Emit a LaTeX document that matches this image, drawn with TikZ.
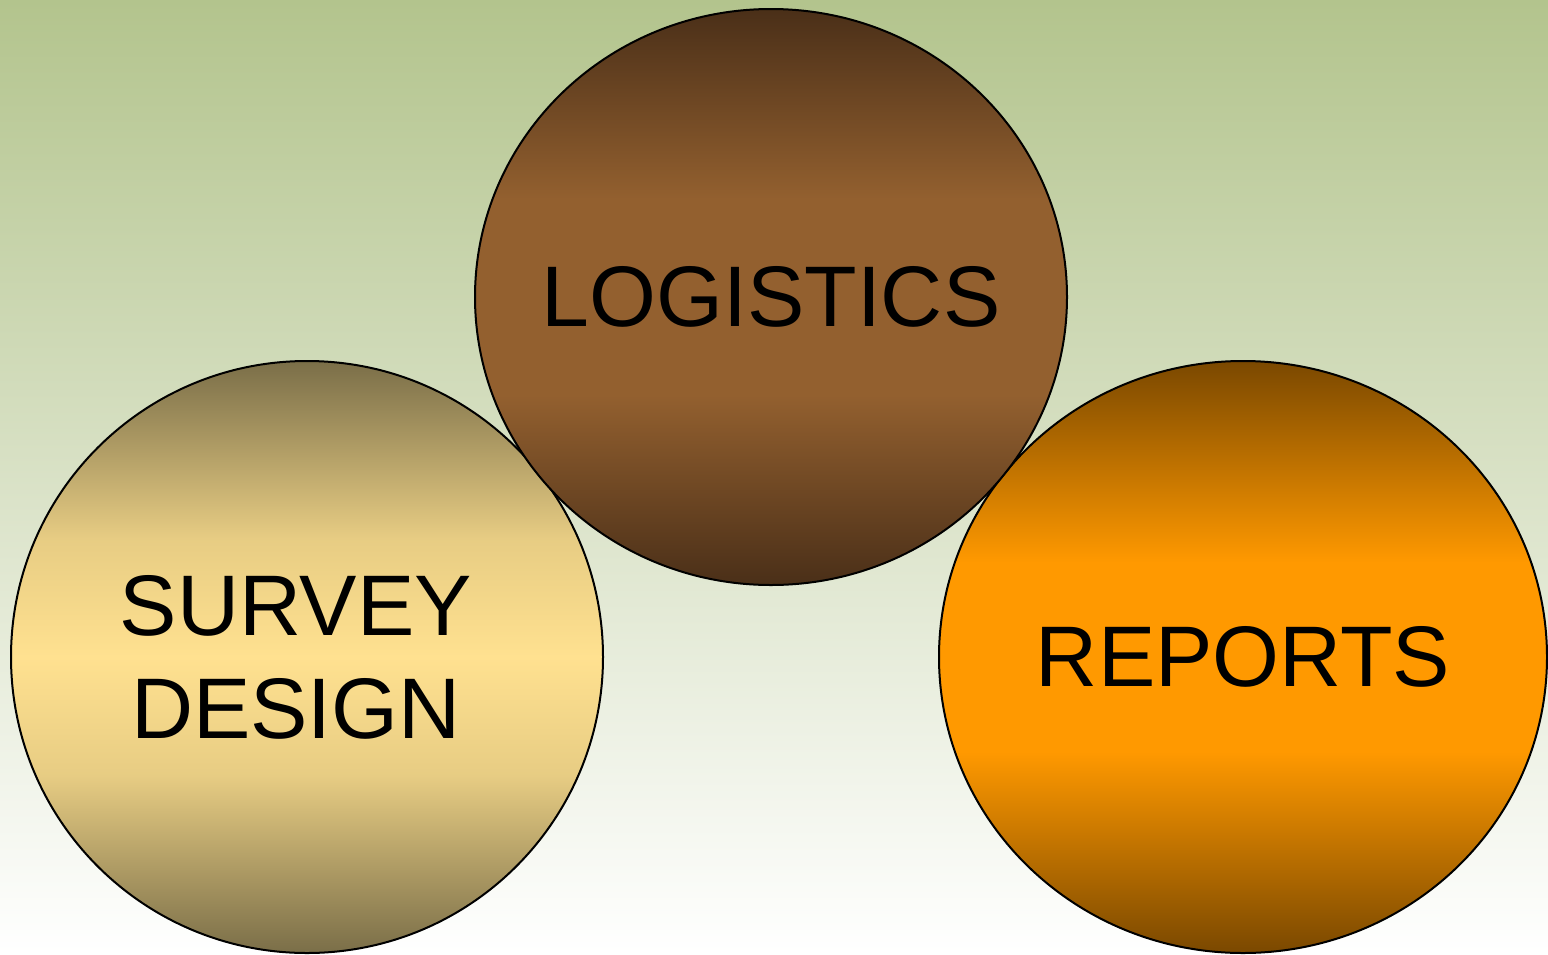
\documentclass[tikz,border=0pt]{standalone}
\usepackage{fontspec}
\setmainfont{Liberation Sans}
\usetikzlibrary{shapes.geometric}
\definecolor{bgtop}{HTML}{B3C48D}
\definecolor{logdark}{HTML}{4A2F18}
\definecolor{logmid}{HTML}{93602F}
\definecolor{surdark}{HTML}{7A6E48}
\definecolor{surmid}{HTML}{FFE190}
\colorlet{surhalf}{surmid!82!surdark}
\definecolor{repdark}{HTML}{7A4800}
\definecolor{repmid}{HTML}{FF9900}
\pgfdeclareverticalshading{logshade}{100bp}{color(0bp)=(logdark); color(25bp)=(logdark);
  color(41.5bp)=(logmid); color(58.5bp)=(logmid); color(75bp)=(logdark); color(100bp)=(logdark)}
\pgfdeclareverticalshading{surshade}{100bp}{color(0bp)=(surdark); color(25bp)=(surdark);
  color(40bp)=(surhalf); color(50bp)=(surmid); color(60bp)=(surhalf); color(75bp)=(surdark); color(100bp)=(surdark)}
\pgfdeclareverticalshading{repshade}{100bp}{color(0bp)=(repdark); color(25bp)=(repdark);
  color(42bp)=(repmid); color(58bp)=(repmid); color(75bp)=(repdark); color(100bp)=(repdark)}
\begin{document}
\begin{tikzpicture}[x=0.5pt,y=0.5pt]
              \tikzstyle{every node}+=[inner sep=0pt]
              \tikzstyle{ball}=[ellipse, draw=black, line width=1pt]
              \tikzstyle{label}=[align=center, font=\fontsize{43}{51.5}\selectfont]
              \useasboundingbox (0,0) rectangle (1548,-954);
              \fill [top color=bgtop, bottom color=white] (0,0) rectangle (1548,-954);
              \node [ball, minimum width=296pt, minimum height=296pt, shading=surshade] (survey) at (307,-657) {};
              \node [label] (survey text) at (296,-657) {SURVEY\\DESIGN};
              \node [ball, minimum width=304pt, minimum height=296pt, shading=repshade] (reports) at (1243,-657) {};
              \node [label] (reports text) at (reports.center) {REPORTS};
              \node [ball, minimum width=296pt, minimum height=288pt, shading=logshade] (logistics) at (771,-297) {};
              \node [label] (logistics text) at (logistics.center) {LOGISTICS};
            \end{tikzpicture}
\end{document}
